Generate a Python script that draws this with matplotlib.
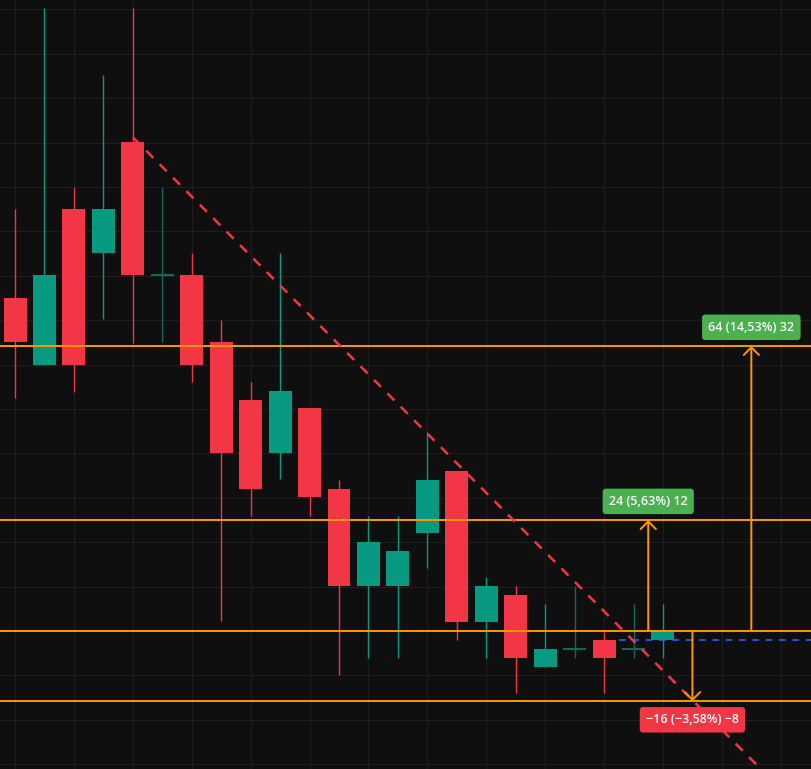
import matplotlib
matplotlib.use("Agg")
from matplotlib import pyplot as plt

# candles (open, high, low, close)
opens = [137.5, 130.0, 147.5, 142.6, 155.1, 140.1, 140.1, 132.5, 126.0, 120.0, 125.1, 116.0,
         105.1, 105.1, 111.0, 118.0, 101.0, 104.1, 95.9, 98.0, 99.0, 98.0, 99.0]
highs = [147.5, 170.2, 150.0, 162.6, 170.2, 150.0, 142.6, 135.0, 128.0, 142.6, 125.1, 117.0,
         113.0, 113.0, 122.4, 118.0, 106.1, 105.1, 103.0, 105.1, 99.9, 103.0, 103.0]
lows = [126.2, 130.0, 126.9, 135.1, 132.4, 132.5, 128.0, 101.1, 113.0, 117.1, 113.0, 95.0,
        97.0, 97.0, 107.1, 99.0, 97.0, 93.0, 95.9, 97.0, 93.0, 97.0, 97.0]
closes = [132.5, 140.1, 130.0, 147.5, 140.1, 140.1, 130.0, 120.0, 116.0, 127.0, 115.1, 105.1,
          110.0, 109.0, 117.0, 101.0, 105.1, 97.0, 98.0, 98.0, 97.0, 98.0, 100.0]

base = 100.0
levels = [132.1, 112.5, 92.1]
arrow_x = [25.0, 21.5, 23.0]
label_texts = ["64 (14,53%) 32", "24 (5,63%) 12", "\u221216 (\u22123,58%) \u22128"]
label_y = [134.2, 114.6, 90.0]
label_colors = ["#4caf50", "#4caf50", "#f23645"]

trend_x = [4.0, 26.0]
trend_y = [155.6, 82.2]
last_price = 99.0

up = "#089981"
down = "#f23645"
doji = "#17665a"
orange = "#ff9800"
bg = "#0f0f0f"

fig = plt.figure(figsize=(8.12, 7.69), dpi=100)
fig.patch.set_facecolor(bg)
ax = fig.add_axes([0, 0, 1, 1])
ax.set_facecolor(bg)
ax.set_xlim(-0.51, 27.06)
ax.set_ylim(84.46, 171.06)

# grid
for gx in range(0, 28, 2):
    ax.axvline(gx, color="#1e1e1e", lw=0.8, zorder=0)
gy = 85
while gy < 171:
    ax.axhline(gy, color="#1e1e1e", lw=0.8, zorder=0)
    gy += 5

# candles
for i in range(len(opens)):
    o, h, l, c = opens[i], highs[i], lows[i], closes[i]
    if c > o:
        col = up
    elif c < o:
        col = down
    else:
        col = doji
    ax.vlines(i, l, h, color=col, lw=1, zorder=2)
    if c == o:
        ax.hlines(o, i - 0.4, i + 0.4, color=col, lw=1.5, zorder=3)
    else:
        ax.bar(i, abs(c - o), bottom=min(o, c), width=0.78, color=col, zorder=3)

# horizontal levels
ax.axhline(base, color=orange, lw=1.4, zorder=4)
for lv in levels:
    ax.axhline(lv, color=orange, lw=1.4, zorder=4)

# trend line and last price
ax.plot(trend_x, trend_y, color=down, lw=1.8, dashes=(4, 3.6), zorder=5)
ax.plot([20.5, 27.1], [last_price, last_price], color="#2962ff", lw=1.2, dashes=(4, 4), zorder=4)

# arrows and labels
for x, lv, txt, ty, col in zip(arrow_x, levels, label_texts, label_y, label_colors):
    ax.annotate("", xy=(x, lv), xytext=(x, base),
                arrowprops=dict(arrowstyle="->,head_length=0.55,head_width=0.55",
                                color=orange, lw=1.4, shrinkA=0, shrinkB=0), zorder=6)
    ax.text(x, ty, txt, color="white", fontsize=9, fontweight="semibold",
            family=["Open Sans", "DejaVu Sans"], ha="center", va="center", zorder=7,
            bbox=dict(boxstyle="round,pad=0.5,rounding_size=0.25", fc=col, ec="none"))

ax.axis("off")
plt.savefig("out.png", dpi=100, facecolor=bg)
